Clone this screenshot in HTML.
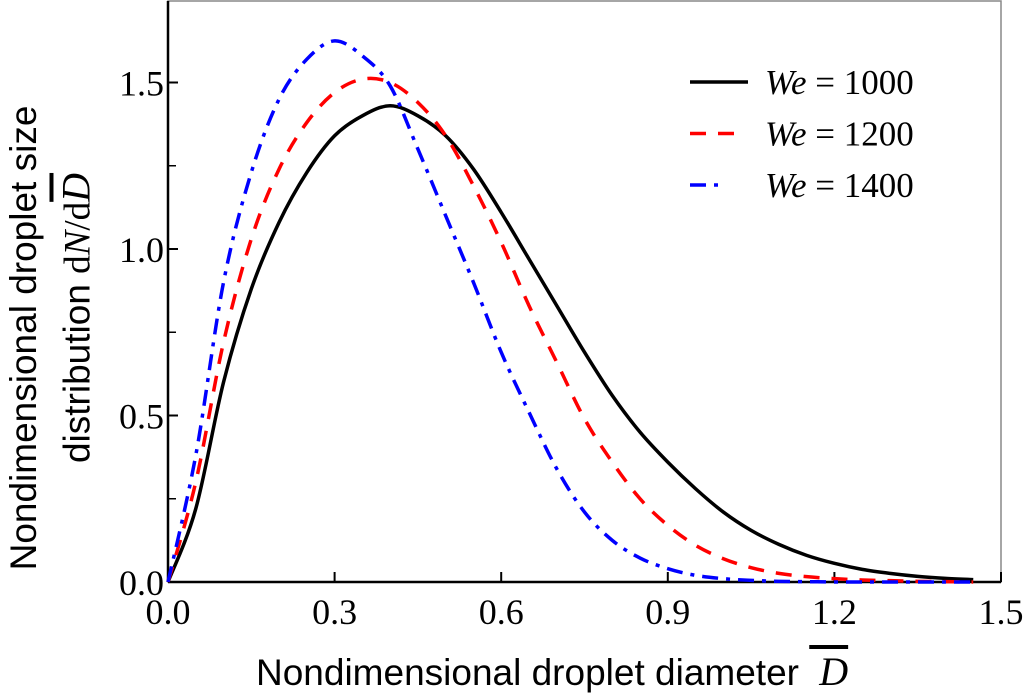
<!DOCTYPE html>
<html><head><meta charset="utf-8"><style>
body{margin:0;background:#fff;width:1024px;height:699px;overflow:hidden;position:relative}
svg{position:absolute;left:0;top:0}
.t{font-family:"Liberation Sans",sans-serif;font-size:37px;position:absolute;white-space:nowrap;color:#000}
.ser{font-family:"Liberation Serif",serif}
.ov{text-decoration:overline;font-style:italic;font-family:"Liberation Serif",serif}
</style></head><body>
<svg id="chart" width="1024" height="699"></svg>
<div class="t" style="left:256px;top:650px;line-height:44px">Nondimensional droplet diameter <span class="ov" style="font-size:40px">&nbsp;D</span></div>
<div class="t" style="left:24px;top:338px;transform:translate(-50%,-50%) rotate(-90deg)">Nondimensional droplet size</div>
<div class="t" style="left:76px;top:318px;transform:translate(-50%,-50%) rotate(-90deg)">distribution <span class="ser">d<i>N</i>/d</span><span class="ov" style="font-size:40px">D</span></div>
<script>
const xs=[0,0.05,0.1,0.15,0.2,0.25,0.3,0.35,0.4,0.45,0.5,0.55,0.6,0.65,0.7,0.75,0.8,0.85,0.9,0.95,1.0,1.05,1.1,1.15,1.2,1.25,1.3,1.35,1.4,1.45];
const we1000=[0,0.22,0.6,0.88,1.08,1.23,1.34,1.40,1.43,1.40,1.34,1.24,1.11,0.97,0.83,0.69,0.56,0.45,0.36,0.28,0.21,0.155,0.113,0.08,0.056,0.038,0.026,0.017,0.011,0.007];
const we1200=[0,0.3,0.72,1.03,1.24,1.38,1.47,1.51,1.50,1.44,1.34,1.19,1.02,0.83,0.66,0.49,0.36,0.25,0.17,0.11,0.07,0.043,0.026,0.016,0.01,0.006,0.004,0.002,0.001,0];
const we1400=[0,0.38,0.9,1.23,1.45,1.57,1.625,1.58,1.49,1.3,1.1,0.9,0.69,0.51,0.34,0.21,0.125,0.072,0.04,0.02,0.01,0.005,0.002,0.001,0,0,0,0,0,0];
const xTicks=[0,0.3,0.6,0.9,1.2,1.5];
const xTickLabels=["0.0","0.3","0.6","0.9","1.2","1.5"];
const yTicks=[0,0.5,1.0,1.5];
const yTickLabels=["0.0","0.5","1.0","1.5"];
const yMinor=[0.25,0.75,1.25];
const L=168,R=1001,T=1,B=582;
const X=v=>L+(v/1.5)*(R-L);
const Y=v=>B-(v/0.5)*166.5;
const NS="http://www.w3.org/2000/svg";
const svg=document.getElementById('chart');
function mk(tag,attrs){const e=document.createElementNS(NS,tag);for(const k in attrs)e.setAttribute(k,attrs[k]);svg.appendChild(e);return e;}
let e=mk('rect',{x:L,y:T,width:R-L,height:B-T,fill:'none',stroke:'#888','stroke-width':1.5});


e=mk('line',{x1:L,y1:T,x2:L,y2:B,stroke:'#000','stroke-width':2.5});


e=mk('line',{x1:L,y1:B,x2:R,y2:B,stroke:'#000','stroke-width':2.5});


xTicks.forEach((v,i)=>{
 let t=mk('line',{x1:X(v),y1:B,x2:X(v),y2:B-10,stroke:'#000','stroke-width':2});
 
 
 let l=mk('text',{x:X(v),y:B+42,'text-anchor':'middle','font-family':'Liberation Serif, serif','font-size':36});
 l.textContent=xTickLabels[i];
 
 
});
yTicks.forEach((v,i)=>{
 let t=mk('line',{x1:L,y1:Y(v),x2:L+10,y2:Y(v),stroke:'#000','stroke-width':2});
 
 
 let l=mk('text',{x:L-4,y:Y(v)+13,'text-anchor':'end','font-family':'Liberation Serif, serif','font-size':36});
 l.textContent=yTickLabels[i];
 
 
});
yMinor.forEach(v=>{
 let t=mk('line',{x1:L,y1:Y(v),x2:L+8,y2:Y(v),stroke:'#000','stroke-width':1.5});
 
 
});
function path(ys){
 const p=xs.map((x,i)=>[X(x),Y(ys[i])]);
 let d='M'+p[0][0]+','+p[0][1];
 for(let i=0;i<p.length-1;i++){
  const p0=p[Math.max(0,i-1)],p1=p[i],p2=p[i+1],p3=p[Math.min(p.length-1,i+2)];
  const c1=[p1[0]+(p2[0]-p0[0])/6,p1[1]+(p2[1]-p0[1])/6];
  const c2=[p2[0]-(p3[0]-p1[0])/6,p2[1]-(p3[1]-p1[1])/6];
  d+=` C${c1[0]},${c1[1]} ${c2[0]},${c2[1]} ${p2[0]},${p2[1]}`;
 }
 return d;
}
const series=[
 {ys:we1000,c:'#000',dash:'',name:'line-we-1000',lab:'1000',lx2:748},
 {ys:we1200,c:'#ff0000',dash:'16 12',name:'line-we-1200',lab:'1200',lx2:740},
 {ys:we1400,c:'#0000ff',dash:'16 8 4 8',name:'line-we-1400',lab:'1400',lx2:722}];
series.forEach((s,i)=>{
 let p=mk('path',{d:path(s.ys),fill:'none',stroke:s.c,'stroke-width':3.5,'stroke-dasharray':s.dash});
 
 
 const ly=82+i*51.5;
 let ll=mk('line',{x1:690,y1:ly,x2:s.lx2,y2:ly,stroke:s.c,'stroke-width':3.5,'stroke-dasharray':s.dash});
 
 
 let tx=mk('text',{x:765,y:ly+12,'font-family':'Liberation Serif, serif','font-size':35});
 tx.innerHTML='<tspan font-style="italic">We</tspan> = '+s.lab;
 
 
});
</script>
</body></html>
